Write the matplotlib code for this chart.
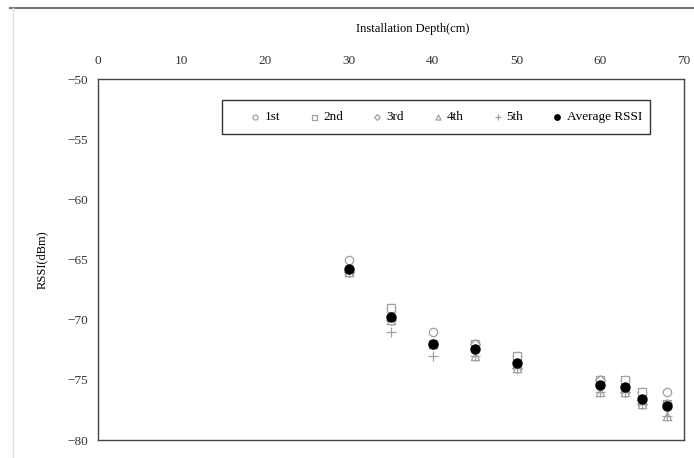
import matplotlib.pyplot as plt
from matplotlib.lines import Line2D
from matplotlib.patches import Rectangle

# Installation depth (cm)
depth = [30, 35, 40, 45, 50, 60, 63, 65, 68]

# RSSI (dBm) for each of the five measurements
rssi_1st = [-65, -69, -71, -72, -73, -75, -75, -76, -76]
rssi_2nd = [-66, -69, -72, -72, -73, -75, -75, -76, -77]
rssi_3rd = [-66, -70, -72, -72, -74, -75, -76, -77, -77]
rssi_4th = [-66, -70, -72, -73, -74, -76, -76, -77, -78]
rssi_5th = [-66, -71, -73, -73, -74, -76, -76, -77, -78]
rssi_avg = [-65.8, -69.8, -72.0, -72.4, -73.6, -75.4, -75.6, -76.6, -77.2]

series_labels = ['1st', '2nd', '3rd', '4th', '5th', 'Average RSSI']

x_ticks = [0, 10, 20, 30, 40, 50, 60, 70]
y_ticks = [-50, -55, -60, -65, -70, -75, -80]

plt.rcParams['font.family'] = ['Liberation Serif', 'DejaVu Serif']

fig = plt.figure(figsize=(6.94, 4.58), dpi=100)
ax = fig.add_axes([0.1412, 0.0393, 0.8444, 0.7882])

gray = '#a0a0a0'
ax.scatter(depth, rssi_1st, marker='o', s=36, facecolors='white', edgecolors=gray,
           linewidths=0.9, label=series_labels[0], zorder=3)
ax.scatter(depth, rssi_2nd, marker='s', s=36, facecolors='white', edgecolors=gray,
           linewidths=0.9, label=series_labels[1], zorder=3)
ax.scatter(depth, rssi_3rd, marker='D', s=24, facecolors='white', edgecolors=gray,
           linewidths=0.9, label=series_labels[2], zorder=3)
ax.scatter(depth, rssi_4th, marker='^', s=36, facecolors='white', edgecolors=gray,
           linewidths=0.9, label=series_labels[3], zorder=3)
ax.scatter(depth, rssi_5th, marker='+', s=45, color=gray,
           linewidths=0.9, label=series_labels[4], zorder=3)
ax.scatter(depth, rssi_avg, marker='o', s=42, color='black',
           label=series_labels[5], zorder=4)

ax.set_xlim(0, 70)
ax.set_ylim(-80, -50)
ax.set_xticks(x_ticks)
ax.set_yticks(y_ticks)
ax.set_yticklabels([f'\u2212{abs(v)}' for v in y_ticks])
ax.xaxis.tick_top()
ax.xaxis.set_label_position('top')
ax.tick_params(length=0, labelsize=9.5, colors='#333333')
ax.tick_params(axis='x', pad=9)
ax.tick_params(axis='y', pad=7)
ax.set_xlabel('Installation Depth(cm)', fontsize=9, labelpad=13)
ax.xaxis.set_label_coords(0.537, 1.13)
ax.set_ylabel('RSSI(dBm)', fontsize=9, labelpad=14)

for sp in ax.spines.values():
    sp.set_color('#444444')
    sp.set_linewidth(1.0)

# legend frame drawn separately so the entries can sit off-centre like the original
ax.add_patch(Rectangle((0.2116, 0.8476), 0.7304, 0.0942, transform=ax.transAxes,
                       facecolor='white', edgecolor='#333333', linewidth=1.0,
                       zorder=5, clip_on=False))
leg = ax.legend(loc='center left', bbox_to_anchor=(0.2594, 0.8476, 0.6689, 0.0942),
                mode='expand', ncol=6, fontsize=9.5, frameon=False,
                handletextpad=0.3, borderaxespad=0, borderpad=0, markerscale=0.6,
                handlelength=0.8, columnspacing=1.0)
leg.set_zorder(6)

# outer page decorations
fig.add_artist(Line2D([0.015, 1.0], [0.983, 0.983], transform=fig.transFigure,
                      color='#777777', linewidth=1.5))
fig.add_artist(Line2D([0.019, 0.019], [0.0, 0.983], transform=fig.transFigure,
                      color='#dddddd', linewidth=1.0))

fig.savefig('out.png', dpi=100)
